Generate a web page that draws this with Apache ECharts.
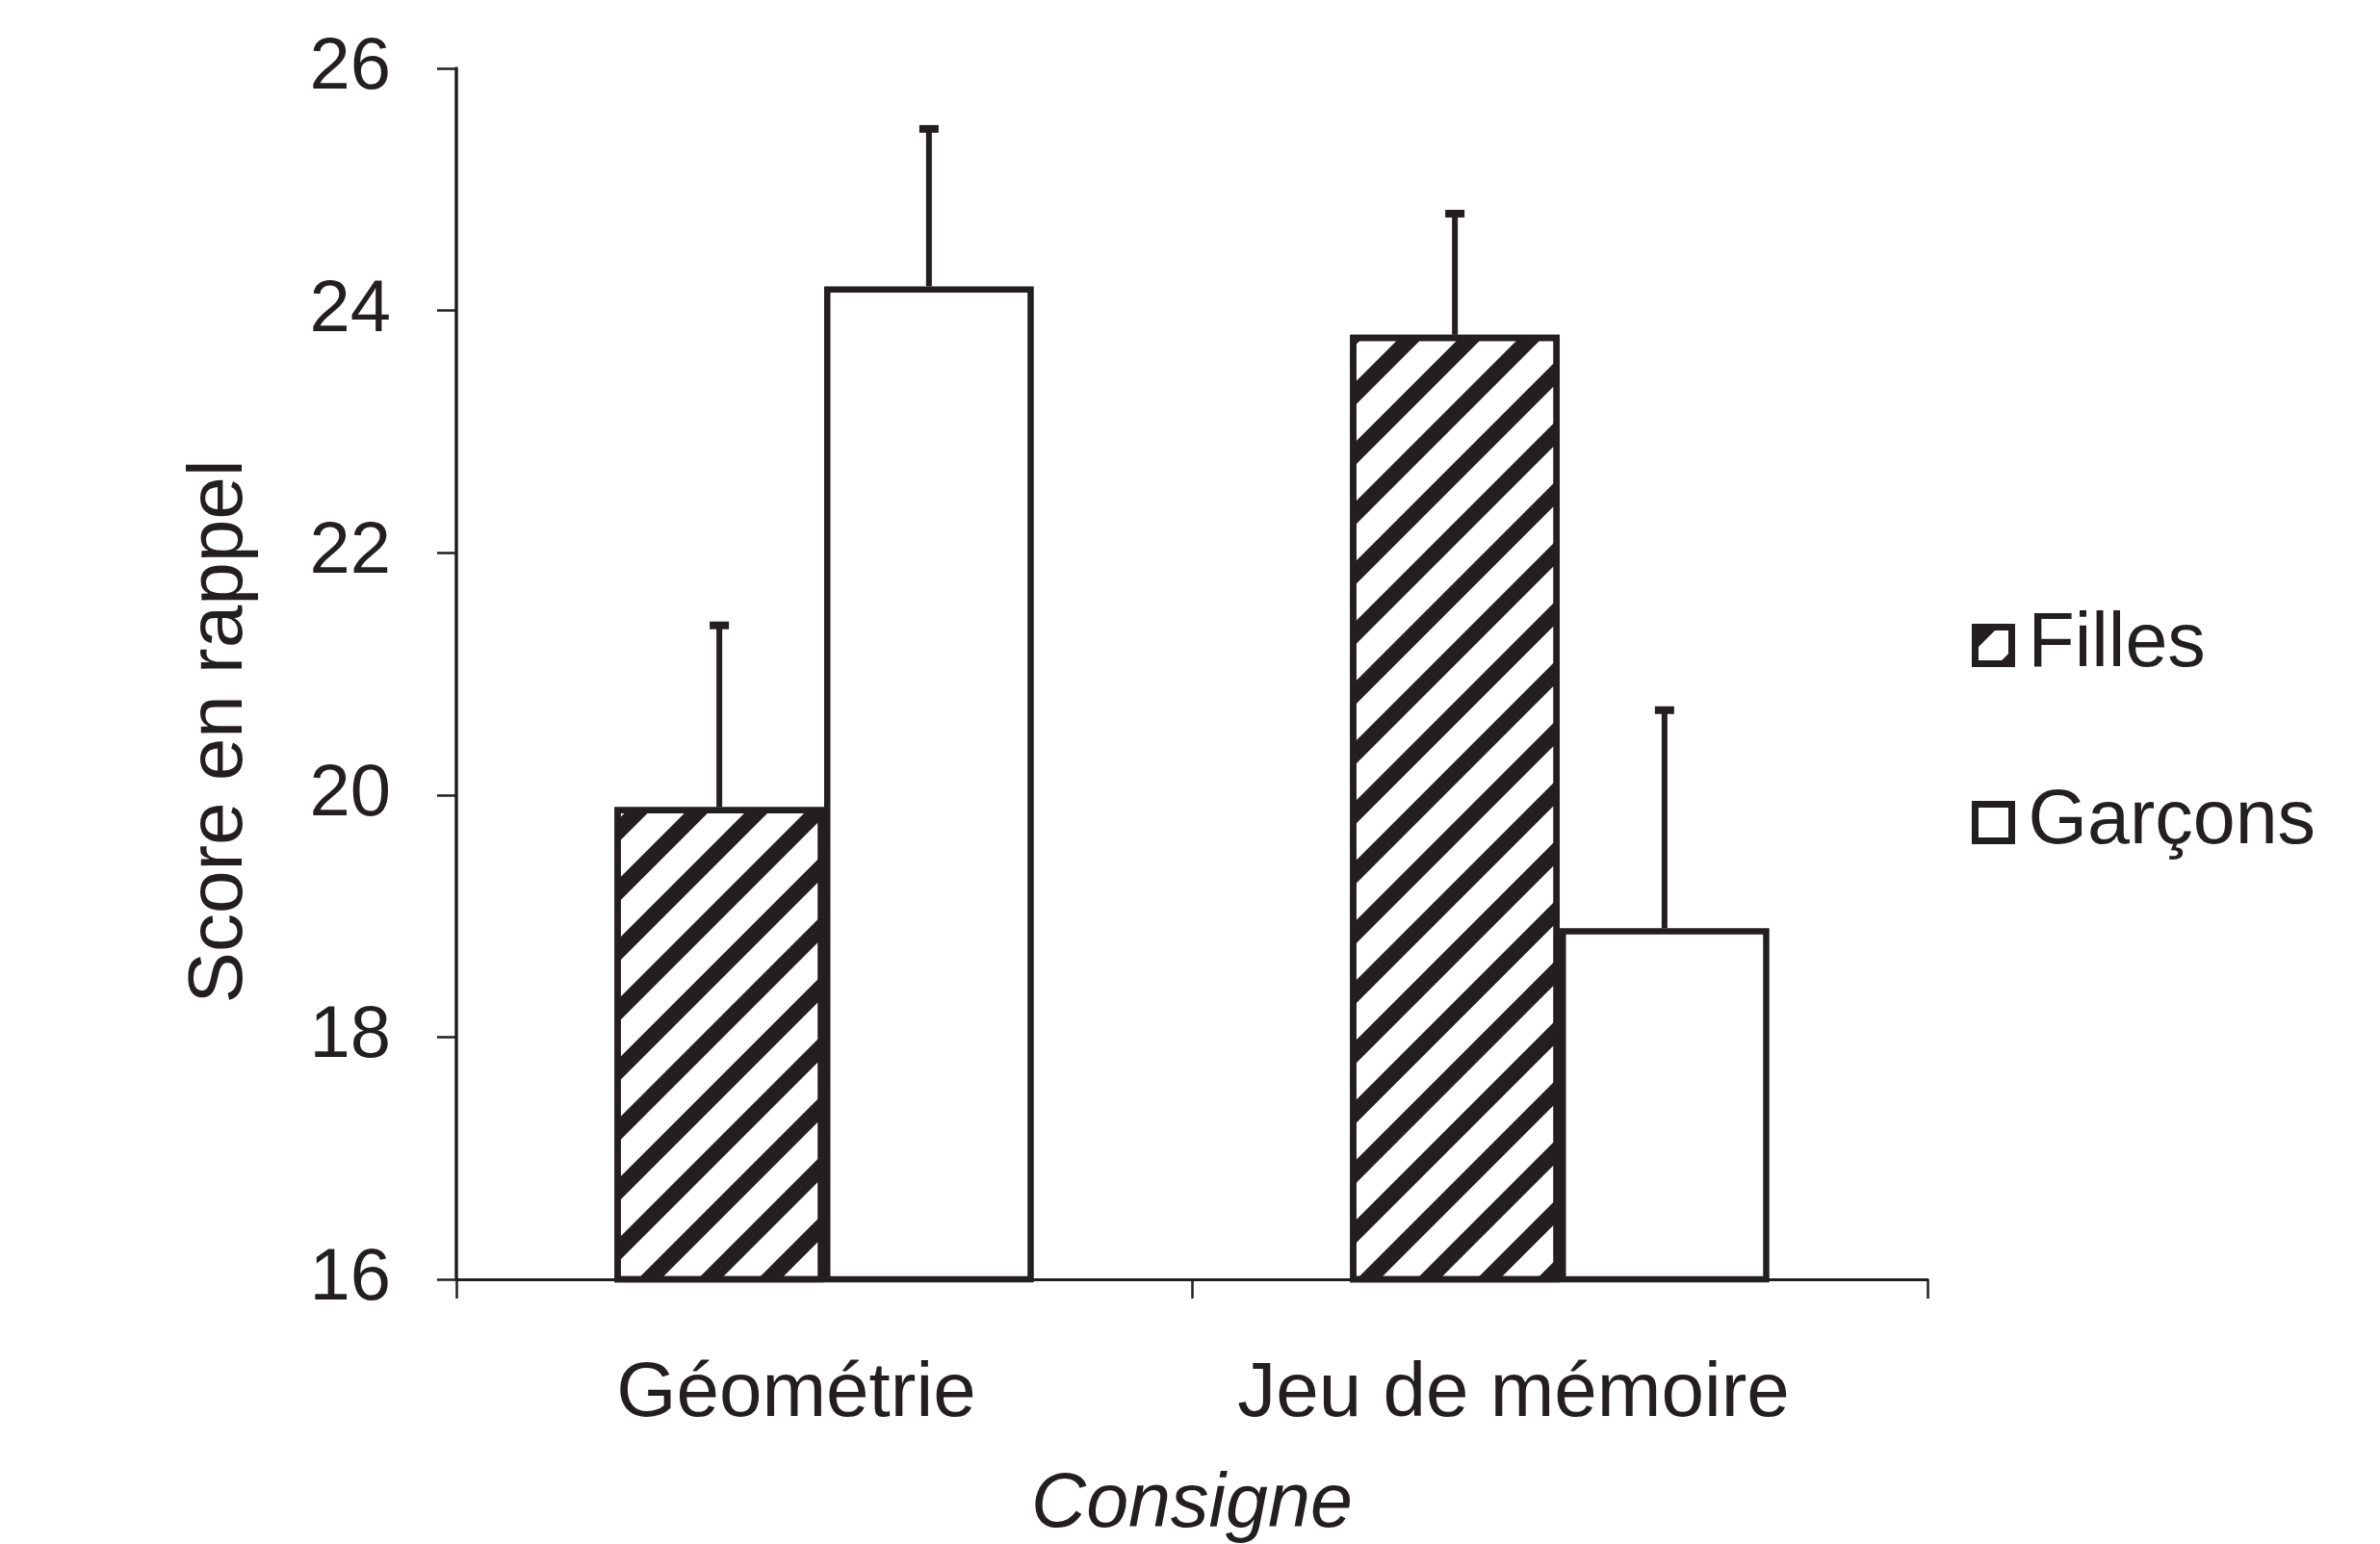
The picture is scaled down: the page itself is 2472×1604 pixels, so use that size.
<!DOCTYPE html>
<html>
<head>
<meta charset="utf-8">
<script src="https://cdn.jsdelivr.net/npm/echarts@6/dist/echarts.min.js"></script>
<style>
html,body{margin:0;padding:0;background:#fff;}
#chart{width:2472px;height:1604px;}
</style>
</head>
<body>
<div id="chart"></div>
<script>
// ---- Data ----
var categories = ['Géométrie', 'Jeu de mémoire'];
var seriesNames = ['Filles', 'Garçons'];
var fillesValues = [19.9, 23.8];
var garconsValues = [24.2, 18.9];
var fillesSD = [1.5, 1.0];
var garconsSD = [1.3, 1.8];
var yTicks = { min: 16, max: 26, interval: 2 };
var xAxisTitle = 'Consigne';
var yAxisTitle = 'Score en rappel';

// ---- Styles ----
var INK = '#231f20';
var FONT = '"Liberation Sans", Arial, Helvetica, sans-serif';
var CAT_GAP = 0.43;

function errData(vals, sds) {
  return vals.map(function (v, i) { return [i, v + sds[i], v]; });
}

function errRender(sign) {
  return function (params, api) {
    var x = api.value(0), top = api.value(1), base = api.value(2);
    var p1 = api.coord([x, base]);
    var p2 = api.coord([x, top]);
    var band = api.size([1, 0])[0];
    var bw = band * (1 - CAT_GAP) / 2;
    var cx = p1[0] + sign * bw / 2;
    return {
      type: 'group',
      children: [
        { type: 'line', shape: { x1: cx, y1: p1[1], x2: cx, y2: p2[1] + 3 },
          style: { stroke: INK, lineWidth: 6 } },
        { type: 'line', shape: { x1: cx - 10, y1: p2[1], x2: cx + 10, y2: p2[1] },
          style: { stroke: INK, lineWidth: 8 } }
      ]
    };
  };
}

var labelKeys = ['a', 'b'];
var labelStyleBase = { fontSize: 80, color: INK, fontFamily: FONT };

var chart = echarts.init(document.getElementById('chart'));
chart.setOption({
  backgroundColor: '#ffffff',
  animation: false,
  grid: { left: 474, right: 470, top: 71, bottom: 275, containLabel: false, outerBoundsMode: 'none' },
  legend: {
    orient: 'vertical',
    left: 2043,
    top: 626,
    itemWidth: 38,
    itemHeight: 38,
    itemGap: 105,
    icon: 'rect',
    data: seriesNames,
    itemStyle: { borderWidth: 7, borderColor: INK },
    textStyle: { fontSize: 79, color: INK, fontFamily: FONT, padding: [0, 0, 0, 12] }
  },
  xAxis: {
    type: 'category',
    data: categories,
    name: xAxisTitle,
    nameLocation: 'middle',
    nameGap: 196,
    nameTextStyle: { fontSize: 79, fontStyle: 'italic', color: INK, fontFamily: FONT },
    axisLine: { lineStyle: { color: INK, width: 3 } },
    axisTick: { show: true, length: 20, lineStyle: { color: INK, width: 2.5 } },
    axisLabel: {
      margin: 80,
      formatter: function (v, i) { return '{' + labelKeys[i] + '|' + v + '}'; },
      rich: {
        a: Object.assign({ padding: [0, 58, 0, 0] }, labelStyleBase),
        b: Object.assign({ padding: [0, 96, 0, 0] }, labelStyleBase)
      }
    }
  },
  yAxis: {
    type: 'value',
    min: yTicks.min,
    max: yTicks.max,
    interval: yTicks.interval,
    name: yAxisTitle,
    nameLocation: 'middle',
    nameGap: 205,
    nameTextStyle: { fontSize: 80, color: INK, fontFamily: FONT, padding: [0, 120, 0, 0] },
    splitLine: { show: false },
    axisLine: { show: true, lineStyle: { color: INK, width: 3.5 } },
    axisTick: { show: true, length: 20, lineStyle: { color: INK, width: 2.5 } },
    axisLabel: { fontSize: 76, color: INK, fontFamily: FONT, margin: 68 }
  },
  series: [
    {
      name: seriesNames[0],
      type: 'bar',
      data: fillesValues,
      barGap: '0%',
      barCategoryGap: (CAT_GAP * 100) + '%',
      itemStyle: {
        color: '#ffffff',
        borderColor: INK,
        borderWidth: 6.5,
        decal: {
          symbol: 'rect',
          symbolSize: 1,
          dashArrayX: [1, 0],
          dashArrayY: [17, 27],
          rotation: -Math.PI / 4,
          color: INK
        }
      }
    },
    {
      name: seriesNames[1],
      type: 'bar',
      data: garconsValues,
      barGap: '0%',
      barCategoryGap: (CAT_GAP * 100) + '%',
      itemStyle: { color: '#ffffff', borderColor: INK, borderWidth: 6.5 }
    },
    {
      type: 'custom',
      renderItem: errRender(-1),
      data: errData(fillesValues, fillesSD),
      encode: { x: 0, y: 1 },
      z: 5,
      silent: true
    },
    {
      type: 'custom',
      renderItem: errRender(1),
      data: errData(garconsValues, garconsSD),
      encode: { x: 0, y: 1 },
      z: 5,
      silent: true
    }
  ]
});
</script>
</body>
</html>
